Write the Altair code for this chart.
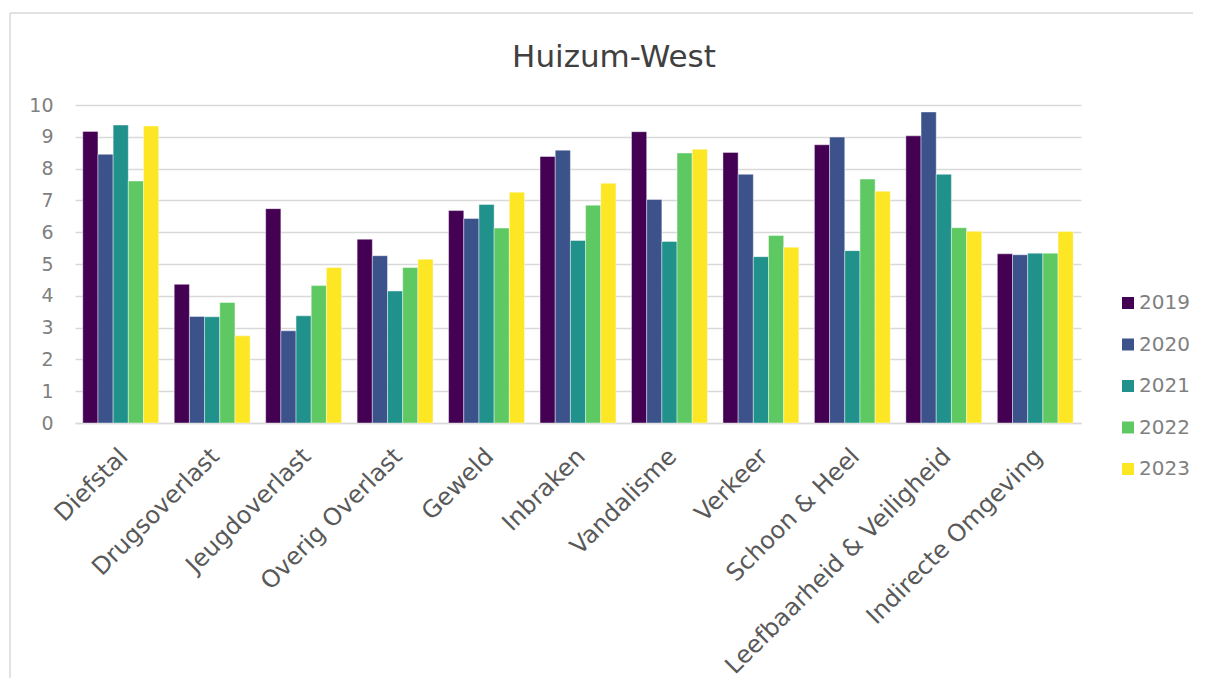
import altair as alt
import pandas as pd

categories = ["Diefstal", "Drugsoverlast", "Jeugdoverlast", "Overig Overlast", "Geweld",
              "Inbraken", "Vandalisme", "Verkeer", "Schoon & Heel",
              "Leefbaarheid & Veiligheid", "Indirecte Omgeving"]
years = ["2019", "2020", "2021", "2022", "2023"]
v2019 = [9.17, 4.36, 6.74, 5.78, 6.68, 8.38, 9.16, 8.51, 8.75, 9.03, 5.32]
v2020 = [8.45, 3.35, 2.90, 5.26, 6.43, 8.58, 7.03, 7.82, 8.99, 9.78, 5.29]
v2021 = [9.37, 3.34, 3.37, 4.15, 6.87, 5.74, 5.71, 5.23, 5.42, 7.82, 5.34]
v2022 = [7.61, 3.79, 4.32, 4.89, 6.13, 6.85, 8.49, 5.90, 7.67, 6.14, 5.34]
v2023 = [9.34, 2.74, 4.89, 5.15, 7.26, 7.54, 8.61, 5.53, 7.29, 6.03, 6.02]
colors = ["#440154", "#3b528b", "#21918c", "#5ec962", "#fde725"]
title_text = "Huizum-West"

series = [v2019, v2020, v2021, v2022, v2023]
rows = []
for y, vals in zip(years, series):
    for c, v in zip(categories, vals):
        rows.append({"categorie": c, "jaar": y, "waarde": v})
df = pd.DataFrame(rows)

FONT = "DejaVu Sans"

bars = alt.Chart(df).mark_bar(stroke="white", strokeWidth=0.6, strokeOpacity=0.7).encode(
    x=alt.X("categorie:N", sort=categories,
            scale=alt.Scale(paddingInner=0.17, paddingOuter=0.085),
            axis=alt.Axis(title=None, labelAngle=-45, labelFontSize=24, labelColor="#595959",
                          labelFont=FONT, ticks=False, domainColor="#d9d9d9", domainWidth=1.5,
                          labelPadding=21, labelOffset=-5, labelLimit=500)),
    xOffset=alt.XOffset("jaar:N", sort=years, scale=alt.Scale(paddingInner=0, paddingOuter=0)),
    y=alt.Y("waarde:Q", scale=alt.Scale(domain=[0, 10], nice=False),
            axis=alt.Axis(title=None, values=list(range(0, 11)), grid=True, gridColor="#d9d9d9",
                          gridWidth=1.5, domain=False, ticks=False, labelFontSize=19,
                          labelColor="#808080", labelFont=FONT, labelPadding=22)),
    color=alt.Color("jaar:N", sort=years, scale=alt.Scale(domain=years, range=colors),
                    legend=alt.Legend(title=None, orient="none", legendX=1043, legendY=188,
                                      symbolType="square", symbolSize=144, symbolStrokeWidth=0,
                                      labelFontSize=20, labelColor="#808080", labelFont=FONT,
                                      labelOffset=1, rowPadding=21.5)),
)

base = alt.Chart(pd.DataFrame({"a": [0]}))

border_top = base.mark_rule(stroke="#d9d9d9", strokeWidth=1.5).encode(
    x=alt.value(-65), x2=alt.value(1118), y=alt.value(-92)
)
border_left = base.mark_rule(stroke="#d9d9d9", strokeWidth=1.5).encode(
    x=alt.value(-65), y=alt.value(-92), y2=alt.value(600)
)

title = base.mark_text(fontSize=31, font=FONT, color="#404040", align="center",
                       baseline="alphabetic").encode(
    x=alt.value(539), y=alt.value(-38), text=alt.value(title_text)
)

chart = alt.layer(border_top, border_left, title, bars).properties(
    width=1006, height=318,
    padding={"left": 67, "top": 97, "right": 120, "bottom": 255},
    autosize=alt.AutoSizeParams(type="none"),
).configure_view(stroke=None)

chart.save("out.html", embed_options={"renderer": "svg", "actions": False})
